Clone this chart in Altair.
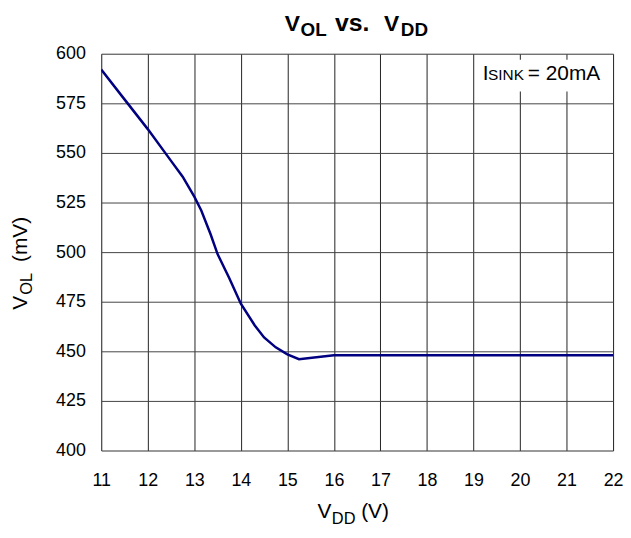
import altair as alt
import pandas as pd

# data
vdd = [11, 11.5, 12, 12.5, 12.75, 13, 13.15, 13.35, 13.5, 13.75, 14, 14.3, 14.5,
       14.75, 15, 15.25, 16, 17, 18, 19, 20, 21, 22]
vol = [592, 577, 562, 546, 538, 528, 521, 509, 499, 487, 474, 463, 457,
       452, 448.5, 446, 448, 448, 448, 448, 448, 448, 448]
x_ticks = list(range(11, 23))
y_ticks = list(range(400, 601, 25))

FONT = "Liberation Sans"
W, H = 516, 400

df = pd.DataFrame({"vdd": vdd, "vol": vol})

xs = alt.Scale(domain=[11, 22], nice=False, zero=False)
ys = alt.Scale(domain=[400, 600], nice=False, zero=False)

base = alt.Chart(df)

line = base.mark_line(color="#000080", strokeWidth=2.5, clip=True).encode(
    x=alt.X("vdd:Q", scale=xs,
            axis=alt.Axis(values=x_ticks, title=None, grid=True, gridColor="#222222",
                          gridWidth=1, gridOpacity=1, ticks=False, domain=False,
                          labelFontSize=18, labelFont=FONT, labelColor="black",
                          labelPadding=21, labelFlush=False)),
    y=alt.Y("vol:Q", scale=ys,
            axis=alt.Axis(values=y_ticks, title=None, grid=True, gridColor="#444444",
                          gridWidth=1, gridOpacity=1, ticks=False, domain=False,
                          labelFontSize=18, labelFont=FONT, labelColor="black",
                          labelPadding=16, labelFlush=False)),
)

one = pd.DataFrame({"k": [0]})


def txt(s, x, y, size, bold=False, angle=0, align="left"):
    kw = dict(font=FONT, fontSize=size, align=align, baseline="alphabetic",
              color="black", fontWeight="bold" if bold else "normal")
    if angle:
        kw["angle"] = angle
    return alt.Chart(one).mark_text(**kw).encode(
        x=alt.value(x), y=alt.value(y), text=alt.value(s))


# white box behind the annotation
box = alt.Chart(one).mark_rect(color="white").encode(
    x=alt.value(380), x2=alt.value(511), y=alt.value(6), y2=alt.value(38))

texts = [
    # title
    txt("V", 185, -23, 23, bold=True),
    txt("OL", 201, -17.5, 19, bold=True),
    txt("vs.", 253, -23, 25, bold=True, align="center"),
    txt("V", 285, -23, 23, bold=True),
    txt("DD", 302, -17.5, 19, bold=True),
    # x axis title
    txt("V", 218, 468, 21),
    txt("DD", 232.5, 474, 16.5),
    txt("(V)", 262, 468, 21),
    # y axis title
    txt("V", -75, 258, 21, angle=270),
    txt("OL", -70, 243, 16.5, angle=270),
    txt("(mV)", -75, 210, 21, angle=270),
    # annotation
    txt("I", 384.5, 26.5, 21),
    txt("SINK", 390, 26.5, 15.5),
    txt("= 20mA", 430, 26.5, 21),
]

chart = alt.layer(line, box, *texts).properties(
    width=W, height=H,
    autosize=alt.AutoSizeParams(type="none"),
    padding={"left": 94, "top": 44, "right": 10, "bottom": 74},
).configure_view(stroke="black", strokeWidth=1.5).configure(background="white")

chart.save("out.html", embed_options={"renderer": "svg", "actions": False})
